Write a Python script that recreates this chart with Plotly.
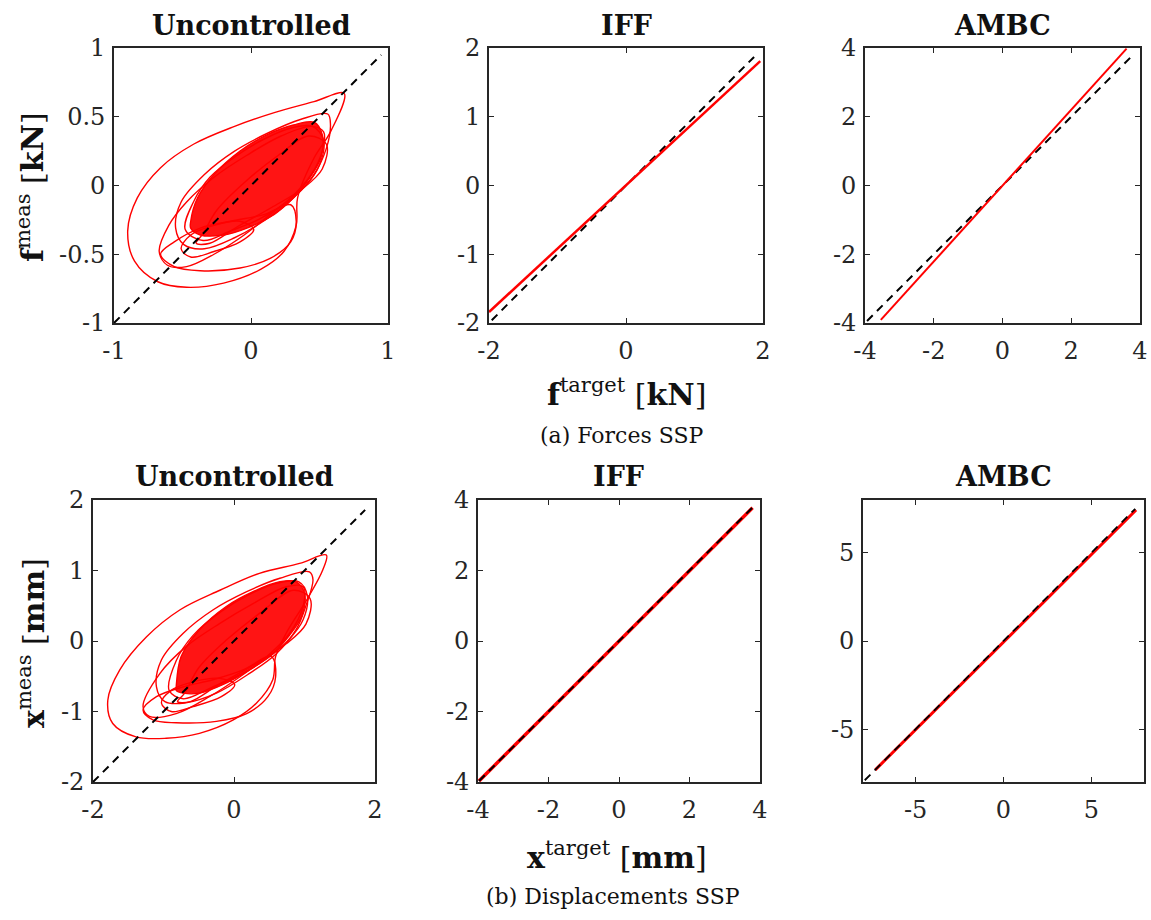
import plotly.graph_objects as go

# ---------------- DATA ----------------
# Forces SSP, Uncontrolled: traced loops [kN]
fu_loopA_x = [0.68, 0.46, 0.17, -0.12, -0.42, -0.66, -0.83, -0.90, -0.85, -0.68, -0.47, -0.20, 0.07, 0.24, 0.33, 0.34, 0.46, 0.58, 0.68]
fu_loopA_y = [0.67, 0.61, 0.53, 0.43, 0.30, 0.13, -0.09, -0.33, -0.55, -0.70, -0.74, -0.71, -0.61, -0.48, -0.29, -0.09, 0.20, 0.39, 0.67]
fu_loopB_x = [-0.67, -0.60, -0.47, -0.27, -0.03, 0.22, 0.44, 0.53, 0.52, 0.44, 0.31, 0.14, -0.05, -0.27, -0.47, -0.61, -0.67]
fu_loopB_y = [-0.48, -0.29, -0.12, 0.06, 0.22, 0.36, 0.43, 0.39, 0.25, 0.08, -0.07, -0.21, -0.36, -0.50, -0.59, -0.58, -0.48]
fu_loopC_x = [-0.66, -0.56, -0.37, -0.15, 0.10, 0.29, 0.33, 0.29, 0.14, -0.08, -0.37, -0.56, -0.66]
fu_loopC_y = [-0.50, -0.41, -0.31, -0.26, -0.21, -0.14, -0.26, -0.41, -0.53, -0.60, -0.62, -0.59, -0.50]
fu_loopD_x = [0.56, 0.36, 0.12, -0.12, -0.34, -0.51, -0.55, -0.49, -0.34, -0.12, 0.12, 0.31, 0.46, 0.55, 0.58, 0.56]
fu_loopD_y = [0.52, 0.48, 0.38, 0.25, 0.08, -0.12, -0.31, -0.43, -0.46, -0.38, -0.24, -0.09, 0.08, 0.27, 0.44, 0.52]
fu_loopE_x = [-0.51, -0.44, -0.27, -0.08, 0.02, -0.08, -0.27, -0.44, -0.51]
fu_loopE_y = [-0.46, -0.36, -0.29, -0.26, -0.32, -0.41, -0.48, -0.52, -0.46]
fu_loopF_x = [-0.48, -0.42, -0.30, -0.10, 0.10, 0.30, 0.45, 0.53, 0.50, 0.40, 0.25, 0.05, -0.15, -0.35, -0.48]
fu_loopF_y = [-0.32, -0.12, 0.06, 0.22, 0.34, 0.42, 0.43, 0.33, 0.15, 0.00, -0.13, -0.25, -0.33, -0.40, -0.32]
fu_loopG_x = [-0.35, -0.25, -0.05, 0.20, 0.42, 0.55, 0.52, 0.38, 0.15, -0.10, -0.30, -0.40, -0.35]
fu_loopG_y = [-0.35, -0.18, 0.02, 0.22, 0.36, 0.30, 0.12, -0.02, -0.16, -0.30, -0.42, -0.42, -0.35]
fu_core_x = [-0.44, -0.39, -0.27, -0.08, 0.12, 0.31, 0.46, 0.52, 0.51, 0.41, 0.31, 0.17, -0.03, -0.20, -0.37, -0.44, -0.44]
fu_core_y = [-0.26, -0.09, 0.08, 0.25, 0.37, 0.44, 0.46, 0.37, 0.20, 0.03, -0.09, -0.21, -0.31, -0.36, -0.36, -0.31, -0.26]
fu_ref_x = [-1.0, 0.95]
fu_ref_y = [-1.0, 0.95]

# Forces SSP, IFF / AMBC [kN]
fi_meas_x = [-2.0, 1.96]
fi_meas_y = [-1.84, 1.81]
fi_ref_x = [-1.96, 1.87]
fi_ref_y = [-1.96, 1.87]
fa_meas_x = [-3.54, 3.61]
fa_meas_y = [-3.91, 3.98]
fa_ref_x = [-3.94, 3.76]
fa_ref_y = [-3.94, 3.76]

# Displacements SSP, Uncontrolled: traced loops [mm]
du_loopA_x = [1.31, 0.93, 0.36, -0.20, -0.77, -1.24, -1.62, -1.79, -1.72, -1.39, -0.96, -0.49, -0.01, 0.32, 0.55, 0.59, 0.74, 1.03, 1.26, 1.31]
du_loopA_y = [1.22, 1.10, 0.96, 0.72, 0.44, 0.06, -0.41, -0.84, -1.17, -1.36, -1.38, -1.31, -1.12, -0.88, -0.55, -0.22, 0.11, 0.58, 1.01, 1.22]
du_loopB_x = [-1.29, -1.05, -0.68, -0.20, 0.27, 0.74, 0.98, 0.98, 0.79, 0.51, 0.08, -0.35, -0.82, -1.20, -1.29]
du_loopB_y = [-0.93, -0.46, -0.08, 0.25, 0.53, 0.77, 0.77, 0.49, 0.11, -0.18, -0.51, -0.79, -1.03, -1.07, -0.93]
du_loopC_x = [-1.29, -1.10, -0.72, -0.30, 0.13, 0.53, 0.59, 0.48, 0.18, -0.25, -0.82, -1.15, -1.29]
du_loopC_y = [-0.98, -0.79, -0.65, -0.55, -0.41, -0.22, -0.51, -0.79, -1.03, -1.14, -1.16, -1.12, -0.98]
du_loopD_x = [1.07, 0.65, 0.18, -0.30, -0.72, -1.03, -1.10, -0.98, -0.70, -0.25, 0.22, 0.60, 0.88, 1.03, 1.12, 1.07]
du_loopD_y = [0.98, 0.89, 0.70, 0.44, 0.11, -0.27, -0.65, -0.86, -0.88, -0.74, -0.46, -0.18, 0.16, 0.53, 0.87, 0.98]
du_loopE_x = [-1.03, -0.89, -0.58, -0.20, 0.01, -0.18, -0.58, -0.89, -1.03]
du_loopE_y = [-0.88, -0.70, -0.58, -0.53, -0.62, -0.79, -0.93, -1.00, -0.88]
du_loopF_x = [-0.92, -0.82, -0.58, -0.18, 0.22, 0.62, 0.92, 1.04, 0.98, 0.78, 0.48, 0.08, -0.32, -0.72, -0.92]
du_loopF_y = [-0.70, -0.28, 0.08, 0.42, 0.66, 0.82, 0.84, 0.64, 0.30, 0.02, -0.24, -0.48, -0.66, -0.82, -0.70]
du_loopG_x = [-0.70, -0.50, -0.10, 0.40, 0.84, 1.08, 1.02, 0.74, 0.28, -0.22, -0.62, -0.80, -0.70]
du_loopG_y = [-0.74, -0.38, 0.02, 0.42, 0.72, 0.60, 0.24, -0.04, -0.34, -0.62, -0.86, -0.86, -0.74]
du_core_x = [-0.82, -0.75, -0.49, -0.11, 0.27, 0.65, 0.88, 1.00, 0.96, 0.77, 0.55, 0.22, -0.16, -0.49, -0.72, -0.82, -0.82]
du_core_y = [-0.65, -0.22, 0.16, 0.49, 0.70, 0.84, 0.84, 0.68, 0.35, 0.06, -0.18, -0.41, -0.62, -0.74, -0.74, -0.70, -0.65]
du_ref_x = [-2.0, 1.86]
du_ref_y = [-2.0, 1.86]

# Displacements SSP, IFF / AMBC [mm]
di_meas_x = [-3.97, 3.79]
di_meas_y = [-3.97, 3.78]
di_ref_x = [-3.97, 3.79]
di_ref_y = [-3.97, 3.79]
da_meas_x = [-7.30, 7.55]
da_meas_y = [-7.31, 7.43]
da_ref_x = [-7.90, 7.50]
da_ref_y = [-7.90, 7.50]

# Tick values / labels
t_f1 = [-1, 0, 1]
t_f1_lbl = ["-1", "0", "1"]
t_f1y = [-1, -0.5, 0, 0.5, 1]
t_f1y_lbl = ["-1", "-0.5", "0", "0.5", "1"]
t_f2 = [-2, 0, 2]
t_f2_lbl = ["-2", "0", "2"]
t_f2y = [-2, -1, 0, 1, 2]
t_f2y_lbl = ["-2", "-1", "0", "1", "2"]
t_f3 = [-4, -2, 0, 2, 4]
t_f3_lbl = ["-4", "-2", "0", "2", "4"]
t_d3 = [-5, 0, 5]
t_d3_lbl = ["-5", "0", "5"]

titles = ["Uncontrolled", "IFF", "AMBC"]

# ---------------- FIGURE ----------------
FONT = "DejaVu Serif"
INK = "#262626"
RED = "#ff0000"
W, H = 1151, 920

fig = go.Figure()


def line(ax, x, y, color, width, dash=None, fill=None, spline=False):
    fig.add_trace(go.Scatter(
        x=x, y=y, xaxis="x" + ax, yaxis="y" + ax, mode="lines",
        line=dict(color=color, width=width, dash=dash,
                  shape="spline" if spline else "linear",
                  smoothing=1.0 if spline else None),
        fill=fill, fillcolor=("rgba(255,0,0,0.92)" if fill else None),
        hoverinfo="skip", showlegend=False))


# panel 1: forces uncontrolled
line("", fu_core_x, fu_core_y, RED, 1.4, fill="toself", spline=True)
for lx, ly in [(fu_loopA_x, fu_loopA_y), (fu_loopB_x, fu_loopB_y), (fu_loopC_x, fu_loopC_y),
               (fu_loopD_x, fu_loopD_y), (fu_loopE_x, fu_loopE_y), (fu_loopF_x, fu_loopF_y),
               (fu_loopG_x, fu_loopG_y)]:
    line("", lx, ly, RED, 1.4, spline=True)
line("", fu_ref_x, fu_ref_y, "black", 2, dash="8px,6px")

# panel 2: forces IFF
line("2", fi_ref_x, fi_ref_y, "black", 2, dash="8px,6px")
line("2", fi_meas_x, fi_meas_y, RED, 2.5)

# panel 3: forces AMBC
line("3", fa_ref_x, fa_ref_y, "black", 2, dash="8px,6px")
line("3", fa_meas_x, fa_meas_y, RED, 2)

# panel 4: displacements uncontrolled
line("4", du_core_x, du_core_y, RED, 1.4, fill="toself", spline=True)
for lx, ly in [(du_loopA_x, du_loopA_y), (du_loopB_x, du_loopB_y), (du_loopC_x, du_loopC_y),
               (du_loopD_x, du_loopD_y), (du_loopE_x, du_loopE_y), (du_loopF_x, du_loopF_y),
               (du_loopG_x, du_loopG_y)]:
    line("4", lx, ly, RED, 1.4, spline=True)
line("4", du_ref_x, du_ref_y, "black", 2, dash="8px,6px")

# panel 5: displacements IFF
line("5", di_meas_x, di_meas_y, RED, 3.5)
line("5", di_ref_x, di_ref_y, "black", 2, dash="8px,6px")

# panel 6: displacements AMBC
line("6", da_meas_x, da_meas_y, RED, 3)
line("6", da_ref_x, da_ref_y, "black", 1.8, dash="8px,6px")


def ax_cfg(dom, rng, tv, tt, anchor, is_x):
    return dict(domain=dom, range=rng, tickvals=tv, ticktext=tt, anchor=anchor,
                automargin=False,
                showgrid=False, zeroline=False, showline=True, linecolor=INK,
                linewidth=1.6, mirror="allticks", ticks="inside", ticklen=5,
                tickwidth=1.3, tickcolor=INK,
                tickfont=dict(family=FONT, size=24, color=INK),
                ticklabelstandoff=(5 if is_x else 2), fixedrange=True)


def px_x(a, b):
    return [a / W, b / W]


def px_y(top, bottom):
    return [1 - bottom / H, 1 - top / H]


cols_top = [(114, 388), (489, 763), (865, 1140)]
cols_bot = [(93, 375), (478, 760), (863, 1144)]
row_top = (48, 323)
row_bot = (500, 782)

axes = [
    (cols_top[0], row_top, [-1, 1], t_f1, t_f1_lbl, t_f1y, t_f1y_lbl),
    (cols_top[1], row_top, [-2, 2], t_f2, t_f2_lbl, t_f2y, t_f2y_lbl),
    (cols_top[2], row_top, [-4, 4], t_f3, t_f3_lbl, t_f3, t_f3_lbl),
    (cols_bot[0], row_bot, [-2, 2], t_f2, t_f2_lbl, t_f2y, t_f2y_lbl),
    (cols_bot[1], row_bot, [-4, 4], t_f3, t_f3_lbl, t_f3, t_f3_lbl),
    (cols_bot[2], row_bot, [-8, 8], t_d3, t_d3_lbl, t_d3, t_d3_lbl),
]

layout = dict(width=W, height=H, margin=dict(l=0, r=0, t=0, b=0, autoexpand=False),
              paper_bgcolor="white", plot_bgcolor="white", showlegend=False)
for i, (cx, ry, rng, xt, xl, yt, yl) in enumerate(axes):
    s = "" if i == 0 else str(i + 1)
    layout["xaxis" + s] = ax_cfg(px_x(*cx), rng, xt, xl, "y" + s, True)
    layout["yaxis" + s] = ax_cfg(px_y(*ry), rng, yt, yl, "x" + s, False)
fig.update_layout(**layout)

ann = []


def text(x, y, t, size, angle=0, bold=False):
    ann.append(dict(x=x / W, y=1 - y / H, xref="paper", yref="paper",
                    text=("<b>%s</b>" % t if bold else t),
                    showarrow=False, textangle=angle, xanchor="center", yanchor="middle",
                    font=dict(family=FONT, size=size, color="#111111")))


for (a, b), t in zip(cols_top, titles):
    text((a + b) / 2, 25, t, 27, bold=True)
for (a, b), t in zip(cols_bot, titles):
    text((a + b) / 2, 477, t, 27, bold=True)

text(30, 187, "<b>f</b><sup>meas</sup> [<b>kN</b>]", 30, angle=-90)
text(626, 393, "<b>f</b><sup>target</sup> [<b>kN</b>]", 30)
text(31, 643, "<b>x</b><sup>meas</sup> [<b>mm</b>]", 30, angle=-90)
text(617, 855, "<b>x</b><sup>target</sup> [<b>mm</b>]", 30)
text(621, 436, "(a) Forces SSP", 22)
text(613, 896, "(b) Displacements SSP", 22)

fig.update_layout(annotations=ann)
fig.write_html("out.html", config={"displayModeBar": False},
               post_script="document.body.style.margin='0px';document.body.style.overflow='hidden';")
